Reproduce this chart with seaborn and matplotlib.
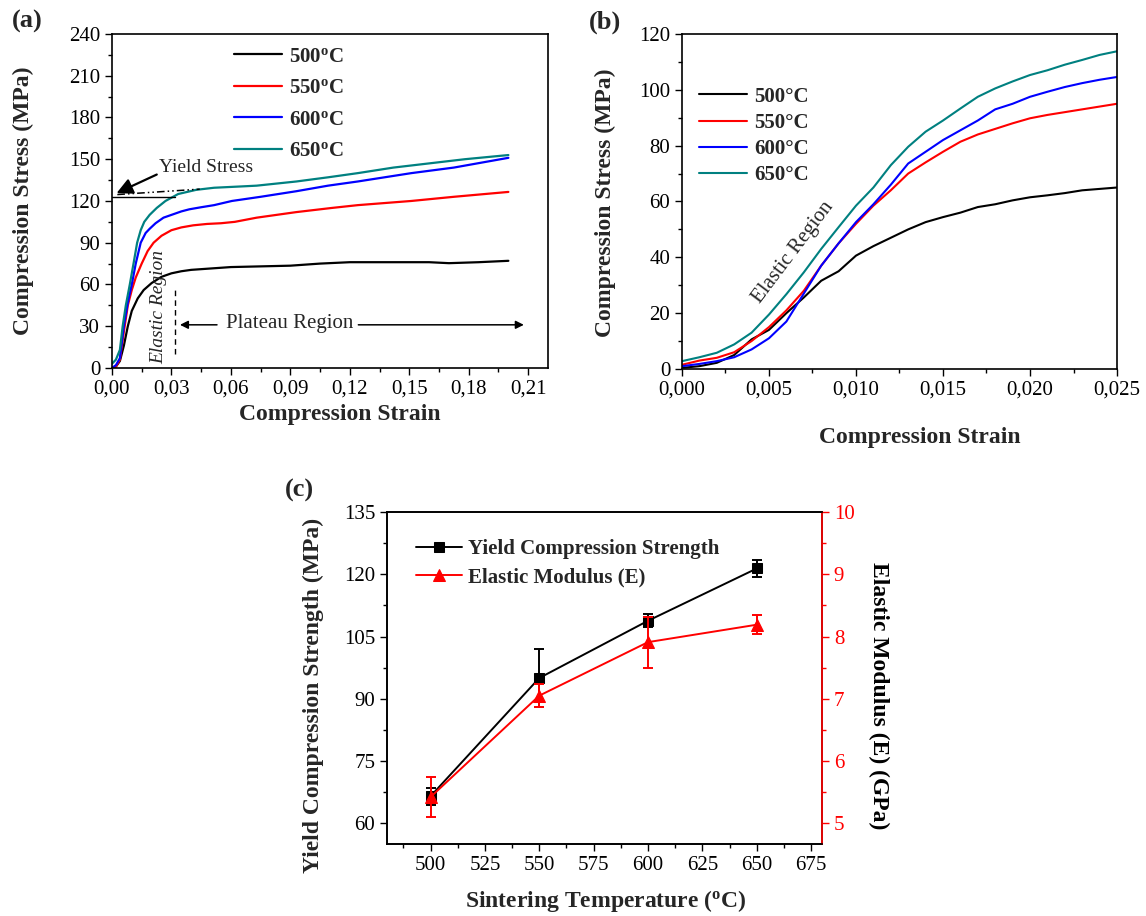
import numpy as np
import pandas as pd
import matplotlib
matplotlib.use("Agg")
import matplotlib.pyplot as plt
import seaborn as sns
from matplotlib.ticker import MultipleLocator, FuncFormatter

sns.set_theme(style="ticks")
plt.rcParams['font.family'] = ['Liberation Serif', 'DejaVu Serif']
plt.rcParams['mathtext.fontset'] = 'custom'
plt.rcParams['mathtext.rm'] = 'Liberation Serif'
plt.rcParams['mathtext.bf'] = 'Liberation Serif:bold'
plt.rcParams['mathtext.it'] = 'Liberation Serif:italic'

# ---- panel (a): full stress-strain curves ----
strain_a_500 = [0, 0.002, 0.004, 0.006, 0.008, 0.010, 0.013, 0.016, 0.020, 0.025, 0.030, 0.035, 0.040,
                0.050, 0.060, 0.075, 0.090, 0.105, 0.120, 0.140, 0.160, 0.170, 0.185, 0.200]
stress_a_500 = [0, 1, 5, 16, 30, 41, 50, 56, 61, 65.5, 68, 69.5, 70.5,
                71.5, 72.5, 73, 73.5, 75, 76, 76, 76, 75.3, 76, 77]
strain_a_550 = [0, 0.002, 0.004, 0.006, 0.008, 0.010, 0.012, 0.015, 0.018, 0.021, 0.025, 0.030, 0.035,
                0.041, 0.048, 0.055, 0.062, 0.073, 0.093, 0.111, 0.124, 0.151, 0.1725, 0.200]
stress_a_550 = [0, 1, 6, 26, 45, 56, 65, 75, 84, 90, 95, 99, 101,
                102.5, 103.5, 104, 105, 108, 112, 115, 117, 120, 123, 126.5]
strain_a_600 = [0, 0.002, 0.004, 0.006, 0.008, 0.010, 0.012, 0.0145, 0.017, 0.019, 0.022, 0.026, 0.030,
                0.035, 0.039, 0.045, 0.0515, 0.0605, 0.075, 0.093, 0.109, 0.124, 0.151, 0.1725, 0.200]
stress_a_600 = [0, 2, 7, 30, 47, 60, 75, 90, 97, 100, 104, 108, 110,
                112.5, 114, 115.5, 117, 120, 123, 127, 131, 134, 140, 144, 151]
strain_a_650 = [0, 0.002, 0.004, 0.0054, 0.007, 0.009, 0.011, 0.0127, 0.0145, 0.0163, 0.019, 0.0226, 0.027,
                0.0334, 0.0425, 0.0515, 0.066, 0.073, 0.093, 0.109, 0.124, 0.142, 0.160, 0.178, 0.200]
stress_a_650 = [3, 6, 13, 30, 45, 60, 76, 90, 99, 105, 110, 115, 120,
                125, 128, 129.5, 130.5, 131, 134, 137, 140, 144, 147, 150, 153]

# ---- panel (b): elastic region zoom ----
strain_b = [0, 0.001, 0.002, 0.003, 0.004, 0.005, 0.006, 0.007, 0.008, 0.009, 0.010, 0.011, 0.012,
            0.013, 0.014, 0.015, 0.016, 0.017, 0.018, 0.019, 0.020, 0.021, 0.022, 0.023, 0.024, 0.025]
stress_b_500 = [0.4, 1, 2.2, 5, 10.6, 14, 20, 25.6, 31.6, 35, 40.6, 44, 47,
                50, 52.6, 54.4, 56, 58, 59, 60.4, 61.5, 62.2, 63, 64, 64.5, 65]
stress_b_550 = [1.5, 3, 4, 6, 10, 15, 21, 28, 37, 45, 52, 58.5, 64,
                70, 74, 77.8, 81.4, 84, 86, 88, 89.8, 91, 92, 93, 94, 95]
stress_b_600 = [1, 1.8, 2.8, 4.2, 7, 11, 17, 27, 37, 45, 52.6, 59, 66,
                73.6, 77.8, 82, 85.5, 89, 93, 95, 97.5, 99.3, 101, 102.4, 103.6, 104.6]
stress_b_650 = [2.8, 4.2, 5.8, 8.8, 13, 19.5, 26.8, 34.6, 43, 50.8, 58.5, 65, 73,
                79.6, 85, 89, 93.3, 97.5, 100.5, 103, 105.3, 107, 109, 110.7, 112.5, 113.8]

# ---- panel (c): yield strength and elastic modulus ----
sinter_temp = [500, 550, 600, 650]
yield_strength = [66.5, 95.0, 108.8, 121.4]
yield_err = [2.1, 7.0, 1.6, 2.1]
elastic_mod = [5.42, 7.05, 7.91, 8.19]
elastic_err = [0.32, 0.18, 0.41, 0.15]

temps = ["500", "550", "600", "650"]
colors = ["black", "red", "blue", "#008080"]
labels_a = [t + r"$^\mathbf{o}$C" for t in temps]
labels_b = [t + "°C" for t in temps]

df_a = pd.concat([
    pd.DataFrame({"strain": s, "stress": y, "T": lab})
    for s, y, lab in zip([strain_a_500, strain_a_550, strain_a_600, strain_a_650],
                         [stress_a_500, stress_a_550, stress_a_600, stress_a_650], labels_a)
])
df_b = pd.concat([
    pd.DataFrame({"strain": strain_b, "stress": y, "T": lab})
    for y, lab in zip([stress_b_500, stress_b_550, stress_b_600, stress_b_650], labels_b)
])

fig = plt.figure(figsize=(11.46, 9.16), dpi=100)
ax_a = fig.add_axes([0.0977, 0.5983, 0.3805, 0.3646])
ax_b = fig.add_axes([0.5951, 0.5972, 0.3796, 0.3657])
ax_c = fig.add_axes([0.3377, 0.0786, 0.3796, 0.3624])

tick_fs = 15
label_fs = 17
legend_prop = {"weight": "bold", "size": 15}


def style_axes(ax):
    for sp in ax.spines.values():
        sp.set_linewidth(1.2)
        sp.set_color("black")
    ax.tick_params(which="both", direction="out", width=1.0, labelsize=tick_fs, colors="black")
    ax.tick_params(which="major", length=5)
    ax.tick_params(which="minor", length=3)


# (a)
sns.lineplot(data=df_a, x="strain", y="stress", hue="T", palette=dict(zip(labels_a, colors)),
             estimator=None, sort=False, linewidth=1.6, ax=ax_a)
ax_a.set_xlim(0, 0.22)
ax_a.set_ylim(0, 240)
ax_a.xaxis.set_major_locator(MultipleLocator(0.03))
ax_a.xaxis.set_minor_locator(MultipleLocator(0.015))
ax_a.yaxis.set_major_locator(MultipleLocator(30))
ax_a.yaxis.set_minor_locator(MultipleLocator(15))
ax_a.xaxis.set_major_formatter(FuncFormatter(lambda v, p: f"{v:.2f}".replace(".", ",")))
style_axes(ax_a)
ax_a.set_xlabel("Compression Strain", fontsize=label_fs, weight="bold")
ax_a.set_ylabel("Compression Stress (MPa)", fontsize=label_fs, weight="bold")
ax_a.xaxis.set_label_coords(0.523, -0.14)
ax_a.yaxis.set_label_coords(-0.204, 0.5)
ax_a.xaxis.label.set_va("center")
ax_a.yaxis.label.set_va("center")
sns.move_legend(ax_a, "upper left", bbox_to_anchor=(0.279, 0.962), frameon=False, title=None,
                prop=legend_prop, handlelength=2.3, handletextpad=0.35, labelspacing=0.55,
                borderpad=0, borderaxespad=0)

ax_a.text(0.0235, 144, "Yield Stress", fontsize=14, ha="left", va="center")
ax_a.annotate("", xy=(0.0023, 125.6), xytext=(0.0226, 139),
              arrowprops=dict(arrowstyle="-|>", color="black", lw=1.6, mutation_scale=24,
                              shrinkA=0, shrinkB=0))
ax_a.plot([0, 0.0316], [123.2, 123.2], color="black", lw=1.0)
ax_a.plot([0.0027, 0.0443], [124.6, 128.5], color="black", lw=1.1, ls=(0, (5, 2, 1, 2, 1, 2)))
ax_a.text(0.0235, 43.8, "Elastic Region", rotation=90, style="italic", fontsize=14,
          ha="center", va="center")
ax_a.plot([0.0316, 0.0316], [10.3, 57], color="black", lw=1.0, ls=(0, (4, 3)))
ax_a.text(0.0895, 32, "Plateau Region", fontsize=15, ha="center", va="center")
for tail, head in [(0.053, 0.0343), (0.1243, 0.2078)]:
    ax_a.annotate("", xy=(head, 31), xytext=(tail, 31),
                  arrowprops=dict(arrowstyle="-|>", color="black", lw=1.1, mutation_scale=12,
                                  shrinkA=0, shrinkB=0))

# (b)
sns.lineplot(data=df_b, x="strain", y="stress", hue="T", palette=dict(zip(labels_b, colors)),
             estimator=None, sort=False, linewidth=1.5, ax=ax_b)
ax_b.set_xlim(0, 0.025)
ax_b.set_ylim(0, 120)
ax_b.xaxis.set_major_locator(MultipleLocator(0.005))
ax_b.xaxis.set_minor_locator(MultipleLocator(0.0025))
ax_b.yaxis.set_major_locator(MultipleLocator(20))
ax_b.yaxis.set_minor_locator(MultipleLocator(10))
ax_b.xaxis.set_major_formatter(FuncFormatter(lambda v, p: f"{v:.3f}".replace(".", ",")))
style_axes(ax_b)
ax_b.set_xlabel("Compression Strain", fontsize=label_fs, weight="bold")
ax_b.set_ylabel("Compression Stress (MPa)", fontsize=label_fs, weight="bold")
ax_b.xaxis.set_label_coords(0.546, -0.206)
ax_b.yaxis.set_label_coords(-0.176, 0.496)
ax_b.xaxis.label.set_va("center")
ax_b.yaxis.label.set_va("center")
sns.move_legend(ax_b, "upper left", bbox_to_anchor=(0.0386, 0.843), frameon=False, title=None,
                prop=legend_prop, handlelength=2.3, handletextpad=0.35, labelspacing=0.3,
                borderpad=0, borderaxespad=0)
ax_b.text(0.00637, 41.8, "Elastic Region", rotation=53, fontsize=15, ha="center", va="center")

# (c)
ax_r = ax_c.twinx()
sns.lineplot(x=sinter_temp, y=yield_strength, color="black", marker="s", markersize=7,
             markeredgecolor="black", linewidth=1.4, label="Yield Compression Strength",
             ax=ax_c, legend=False)
ax_c.errorbar(sinter_temp, yield_strength, yerr=yield_err, fmt="none", ecolor="black",
              elinewidth=1.4, capsize=3.5, capthick=1.4)
sns.lineplot(x=sinter_temp, y=elastic_mod, color="red", marker="^", markersize=9,
             markeredgecolor="red", linewidth=1.4, label="Elastic Modulus (E)",
             ax=ax_r, legend=False)
ax_r.errorbar(sinter_temp, elastic_mod, yerr=elastic_err, fmt="none", ecolor="red",
              elinewidth=1.4, capsize=3.5, capthick=1.4)

ax_c.set_xlim(480, 680)
ax_c.set_ylim(55, 135)
ax_r.set_ylim(5 + (55 - 60) / 15, 10)
ax_c.xaxis.set_major_locator(MultipleLocator(25))
ax_c.xaxis.set_minor_locator(MultipleLocator(12.5))
ax_c.yaxis.set_major_locator(MultipleLocator(15))
ax_c.yaxis.set_minor_locator(MultipleLocator(7.5))
ax_r.yaxis.set_major_locator(MultipleLocator(1))
ax_r.yaxis.set_minor_locator(MultipleLocator(0.5))
style_axes(ax_c)
style_axes(ax_r)
ax_r.spines["right"].set_color("red")
ax_r.tick_params(axis="y", which="both", colors="red")
ax_c.set_xlabel(r"Sintering Temperature ($^\mathbf{o}$C)", fontsize=label_fs, weight="bold")
ax_c.set_ylabel("Yield Compression Strength (MPa)", fontsize=label_fs, weight="bold")
ax_r.set_ylabel("Elastic Modulus (E) (GPa)", fontsize=label_fs, weight="bold", rotation=270,
                color="black")
ax_c.xaxis.set_label_coords(0.503, -0.172)
ax_c.yaxis.set_label_coords(-0.170, 0.449)
ax_r.yaxis.set_label_coords(1.129, 0.447)
for lab in [ax_c.xaxis.label, ax_c.yaxis.label, ax_r.yaxis.label]:
    lab.set_va("center")
    lab.set_ha("center")

h1, l1 = ax_c.get_legend_handles_labels()
h2, l2 = ax_r.get_legend_handles_labels()
ax_r.legend(h1 + h2, l1 + l2, loc="upper left", bbox_to_anchor=(0.0667, 0.918), frameon=False,
            prop=legend_prop, handlelength=2.2, handletextpad=0.3, labelspacing=0.4,
            borderpad=0, borderaxespad=0)

# panel letters
fig.text(27 / 1146, 1 - 21.7 / 916, "(a)", fontsize=19, weight="bold", ha="center", va="center")
fig.text(605 / 1146, 1 - 21.8 / 916, "(b)", fontsize=19, weight="bold", ha="center", va="center")
fig.text(299 / 1146, 1 - 490 / 916, "(c)", fontsize=19, weight="bold", ha="center", va="center")

fig.savefig("out.png", dpi=100)
